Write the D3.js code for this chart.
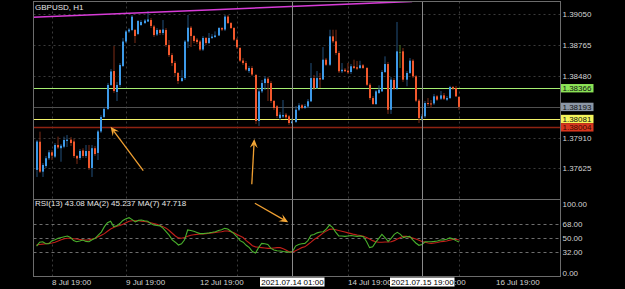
<!DOCTYPE html>
<html lang="en">
<head>
<meta charset="UTF-8">
<title>GBPUSD H1</title>
<script src="https://d3js.org/d3.v7.min.js"></script>
<style>
  body, html { margin: 0; padding: 0; background: #000; overflow: hidden; }
  svg { display: block; font-family: "Liberation Sans", Arial, sans-serif; }
</style>
</head>
<body>
<svg id="chart" width="625" height="289"></svg>
<script>
// bar index 0 = 8 Jul 19:00 (H1); data starts at bar -5
const firstBar = -5;

const opens = [
  1.37610,1.37871,1.37594,1.37646,1.37718,1.37773,1.37733,1.37841,1.37811,1.37825,
  1.37878,1.37890,1.37873,1.37739,1.37720,1.37790,1.37739,1.37785,1.37628,1.37811,
  1.37767,1.37966,1.38100,1.38174,1.38396,1.38525,1.38331,1.38396,1.38572,1.38798,
  1.38891,1.38905,1.38905,1.38868,1.38951,1.38969,1.38983,1.38997,1.38937,1.38863,
  1.38905,1.38877,1.38905,1.38766,1.38673,1.38599,1.38507,1.38433,1.38460,1.38798,
  1.38926,1.38849,1.38815,1.38798,1.38724,1.38831,1.38784,1.38831,1.38840,1.38854,
  1.38923,1.38909,1.39029,1.38969,1.38923,1.38815,1.38738,1.38622,1.38599,1.38525,
  1.38553,1.38488,1.38063,1.38337,1.38414,1.38454,1.38414,1.38248,1.38199,1.38090,
  1.38104,1.38121,1.38106,1.38044,1.38054,1.38167,1.38208,1.38183,1.38197,1.38245,
  1.38460,1.38368,1.38460,1.38447,1.38630,1.38583,1.38846,1.38800,1.38692,1.38523,
  1.38537,1.38528,1.38516,1.38569,1.38560,1.38553,1.38578,1.38553,1.38398,1.38275,
  1.38220,1.38322,1.38337,1.38516,1.38590,1.38167,1.38442,1.38359,1.38701,1.38707,
  1.38445,1.38507,1.38621,1.38476,1.38251,1.38084,1.38106,1.38229,1.38225,1.38225,
  1.38291,1.38269,1.38300,1.38260,1.38275,1.38377,1.38368,1.38285
];
const highs = [
  1.37887,1.37964,1.37674,1.37739,1.37794,1.37794,1.37859,1.37918,1.37850,1.37918,
  1.37933,1.37915,1.37896,1.37748,1.37804,1.37811,1.37841,1.37841,1.37841,1.37832,
  1.37980,1.38118,1.38192,1.38414,1.38544,1.38756,1.38424,1.38599,1.38831,1.38905,
  1.38923,1.39043,1.38914,1.38997,1.38997,1.39006,1.39080,1.39016,1.38951,1.38923,
  1.38914,1.38997,1.38923,1.38812,1.38692,1.38618,1.38516,1.38534,1.38812,1.39043,
  1.38942,1.38858,1.38831,1.38812,1.38849,1.38840,1.38877,1.38868,1.38892,1.38932,
  1.38932,1.39043,1.39043,1.38979,1.38932,1.38831,1.38747,1.38646,1.38618,1.38572,
  1.38572,1.38498,1.38368,1.38442,1.38479,1.38470,1.38433,1.38257,1.38211,1.38146,
  1.38257,1.38137,1.38118,1.38090,1.38201,1.38229,1.38220,1.38220,1.38266,1.38599,
  1.38488,1.38525,1.38507,1.38747,1.38646,1.38907,1.38907,1.38907,1.38710,1.38599,
  1.38553,1.38599,1.38590,1.38630,1.38618,1.38620,1.38590,1.38562,1.38414,1.38294,
  1.38349,1.38393,1.38534,1.38661,1.38609,1.38470,1.38460,1.38979,1.38766,1.38738,
  1.38525,1.38646,1.38636,1.38488,1.38266,1.38128,1.38248,1.38275,1.38257,1.38313,
  1.38303,1.38340,1.38322,1.38294,1.38389,1.38387,1.38387,1.38294
];
const lows = [
  1.37545,1.37582,1.37545,1.37628,1.37702,1.37702,1.37720,1.37804,1.37686,1.37811,
  1.37822,1.37832,1.37720,1.37665,1.37702,1.37720,1.37720,1.37610,1.37545,1.37739,
  1.37702,1.37952,1.38090,1.38164,1.38387,1.38322,1.38248,1.38377,1.38562,1.38784,
  1.38877,1.38895,1.38784,1.38858,1.38942,1.38960,1.38979,1.38923,1.38840,1.38849,
  1.38858,1.38858,1.38747,1.38655,1.38572,1.38479,1.38405,1.38424,1.38442,1.38738,
  1.38747,1.38784,1.38775,1.38710,1.38710,1.38766,1.38775,1.38821,1.38831,1.38849,
  1.38895,1.38895,1.38960,1.38914,1.38803,1.38729,1.38609,1.38581,1.38525,1.38507,
  1.38479,1.38035,1.38017,1.38322,1.38349,1.38248,1.38229,1.38164,1.38090,1.38072,
  1.38090,1.38081,1.38026,1.38035,1.38044,1.38155,1.38174,1.38174,1.38183,1.38238,
  1.38349,1.38359,1.38368,1.38442,1.38572,1.38572,1.38784,1.38673,1.38507,1.38507,
  1.38516,1.38498,1.38498,1.38544,1.38534,1.38544,1.38544,1.38387,1.38257,1.38211,
  1.38211,1.38313,1.38331,1.38507,1.38128,1.38128,1.38349,1.38349,1.38553,1.38424,
  1.38384,1.38498,1.38460,1.38238,1.38044,1.38063,1.38090,1.38201,1.38183,1.38211,
  1.38248,1.38257,1.38257,1.38248,1.38266,1.38349,1.38285,1.38164
];
const closes = [
  1.37873,1.37594,1.37656,1.37718,1.37773,1.37742,1.37841,1.37818,1.37834,1.37887,
  1.37890,1.37859,1.37739,1.37716,1.37785,1.37739,1.37785,1.37628,1.37811,1.37757,
  1.37966,1.38100,1.38174,1.38396,1.38521,1.38340,1.38396,1.38581,1.38798,1.38891,
  1.38909,1.39028,1.38849,1.38988,1.38979,1.38992,1.39002,1.38942,1.38858,1.38905,
  1.38877,1.38909,1.38766,1.38673,1.38599,1.38507,1.38433,1.38460,1.38798,1.38926,
  1.38849,1.38803,1.38794,1.38724,1.38831,1.38784,1.38831,1.38844,1.38854,1.38923,
  1.38909,1.39029,1.38969,1.38923,1.38815,1.38745,1.38621,1.38599,1.38539,1.38553,
  1.38493,1.38063,1.38337,1.38414,1.38454,1.38414,1.38248,1.38183,1.38109,1.38121,
  1.38118,1.38097,1.38044,1.38058,1.38167,1.38208,1.38183,1.38201,1.38245,1.38460,
  1.38368,1.38460,1.38447,1.38630,1.38583,1.38846,1.38800,1.38692,1.38523,1.38537,
  1.38523,1.38513,1.38569,1.38553,1.38547,1.38578,1.38553,1.38398,1.38275,1.38220,
  1.38337,1.38352,1.38516,1.38590,1.38167,1.38445,1.38359,1.38707,1.38701,1.38445,
  1.38507,1.38621,1.38476,1.38251,1.38090,1.38106,1.38229,1.38220,1.38217,1.38291,
  1.38260,1.38300,1.38269,1.38275,1.38377,1.38362,1.38291,1.38193
];

// RSI(13) smoothed lines
const rsiMa2 = [
  40,45,45.5,43,43,47,48,50,51,52,53,51,47,45.6,46.5,47.8,46,45.6,48,50,
  54,58,65,70,72,65,66,69,73,75,76.5,74,71,73,73.5,72.5,72,69,67,66.5,
  66,63,58.5,54,48,45,41.4,43,48,60.7,60,59,57.5,56,56,56.5,57,57.7,58.5,60,
  61,62.8,62,59,56,52,47,45,41,38,33,31,38,43.5,43,42,37,35,34,33.7,
  33,32.5,32,33,40,42,43,43.5,47,54,55,57,58,58.5,62,67,64,58,53,53,
  52.5,53,53.5,53,52.5,53,52,46,38,39,45,50,55,51,46,50,55,57.7,55,51,
  52,52.5,48,44,41,42,45.6,45.6,45.6,46,46.5,47.8,48,48.7,50.5,49.5,47,45.2
];
const rsiMa7 = [
  41.5,42,42.5,43,43.5,44,45,46.5,48,49.5,50,50,49.5,49,48.5,48,47.8,48,49,50,
  52,54,56,59,62,64,65.5,66.5,68,70,72,72.5,72.5,72.5,72,71.5,71,70,69,68,
  66.5,65,63,60,56.5,53,50.5,50,51,52.5,54,54.5,55,55.5,55.5,56,56.4,57,57.5,58,
  58.5,59.4,59.4,58.5,57,55,53,51,47,44,40.5,39,38.5,38,37.5,37,37,37.5,38,38,
  36.5,34.5,32.5,32,34,36,38,39,42,45,48.5,51,54,57,59.5,61.5,62,61,60,59,
  58,57,56,55,54.2,53.5,52.5,51,49,47,45.5,44.9,45,45.2,45.3,45.6,47,49,51,52.5,
  52.5,51.5,50.5,49,47.5,46,45,44,43.5,44,44.5,45.5,46,46.5,47.5,48.5,48.7,47.7
];

const priceTicks = [1.39050, 1.38765, 1.38480, 1.38195, 1.37910, 1.37625];
const rsiTicks = [100, 68, 50, 32, 0];
const rsiLevels = [68, 50, 32];
// 13 Jul 19:00 is fully covered by the crosshair tag, so it is not listed
const timeTicks = [
  { bar: 0, label: "8 Jul 19:00" },
  { bar: 24, label: "9 Jul 19:00" },
  { bar: 48, label: "12 Jul 19:00" },
  { bar: 96, label: "14 Jul 19:00" },
  { bar: 120, label: "15 Jul 19:00" },
  { bar: 144, label: "16 Jul 19:00" }
];
const gridBars = [0, 24, 60, 96, 132];
const crossBars = [
  { bar: 78, label: "2021.07.14 01:00" },
  { bar: 120, label: "2021.07.15 19:00" }
];
// horizontal levels with their tag colours
const priceLines = [
  { value: 1.38366, line: "#a6ee72", box: "#8be356", text: "#111" },
  { value: 1.38193, line: "#505050", box: "#8c97a6", text: "#111" },
  { value: 1.38081, line: "#f2f26a", box: "#f4f45c", text: "#111" },
  { value: 1.38004, line: "#8e2312", box: "#d8361e", text: "#3a0a00" }
];
const trendLine = [{ bar: -6.2, price: 1.39022 }, { bar: 116.8, price: 1.39169 }];
const priceArrows = [
  { from: { bar: 29.6, v: 1.37603 }, to: { bar: 19.0, v: 1.38010 } },
  { from: { bar: 64.8, v: 1.37477 }, to: { bar: 65.6, v: 1.37896 } }
];
const rsiArrows = [
  { from: { bar: 65.8, v: 95 }, to: { bar: 76.6, v: 70.6 } }
];
const legendText = "RSI(13) 43.08 MA(2) 45.237 MA(7) 47.718";

const svg = d3.select("#chart");
const W = 625, H = 289;
const left = 33.5, right = 560.5, mainTop = 1.5, mainBottom = 199.5, rsiBottom = 276.5;

const x = d3.scaleLinear().domain([0, 144]).range([52, 496]);
const y = d3.scaleLinear().domain([1.37625, 1.39050]).range([168.3, 14.3]);
const yr = d3.scaleLinear().domain([0, 100]).range([277.2, 199.4]);

svg.append("rect").attr("width", W).attr("height", H).attr("fill", "#000");

const defs = svg.append("defs");
defs.append("clipPath").attr("id", "clipMain").append("rect")
  .attr("x", left).attr("y", mainTop).attr("width", right - left).attr("height", mainBottom - mainTop);
defs.append("clipPath").attr("id", "clipRsi").append("rect")
  .attr("x", left).attr("y", mainBottom).attr("width", right - left).attr("height", rsiBottom - mainBottom);

const main = svg.append("g").attr("clip-path", "url(#clipMain)");
const rsi = svg.append("g").attr("clip-path", "url(#clipRsi)");

// grid
main.selectAll(".hgrid").data(priceTicks).join("line")
  .attr("x1", left).attr("x2", right)
  .attr("y1", d => Math.round(y(d)) + 0.5).attr("y2", d => Math.round(y(d)) + 0.5)
  .attr("stroke", "#3a3a3a").attr("stroke-dasharray", "2,3");
[main, rsi].forEach((g, k) => {
  g.selectAll(".vgrid").data(gridBars).join("line")
    .attr("x1", d => Math.round(x(d)) + 0.5).attr("x2", d => Math.round(x(d)) + 0.5)
    .attr("y1", k ? mainBottom : mainTop).attr("y2", k ? rsiBottom : mainBottom)
    .attr("stroke", "#3a3a3a").attr("stroke-dasharray", "2,3");
});
rsi.selectAll(".lvl").data(rsiLevels).join("line")
  .attr("x1", left).attr("x2", right)
  .attr("y1", d => Math.round(yr(d)) + 0.5).attr("y2", d => Math.round(yr(d)) + 0.5)
  .attr("stroke", "#6e6e6e").attr("stroke-dasharray", "3,3");

// price level lines
main.selectAll(".plevel").data(priceLines).join("line")
  .attr("x1", left).attr("x2", right)
  .attr("y1", d => Math.round(y(d.value)) + 0.5).attr("y2", d => Math.round(y(d.value)) + 0.5)
  .attr("stroke", d => d.line).attr("stroke-width", (d, i) => i === 3 ? 1.6 : 1);

// candles
const bars = d3.range(opens.length).map(i => ({
  bar: firstBar + i, o: opens[i], h: highs[i], l: lows[i], c: closes[i]
}));
const candleColor = d => d.c > d.o ? "#3d9ae8" : d.c < d.o ? "#f2582c" : "#4d7a22";
const wickColor = d => d.c > d.o ? "#22507c" : d.c < d.o ? "#7e2c16" : "#4d7a22";
const cx = d => Math.round(x(d.bar));

main.selectAll(".wick").data(bars).join("rect")
  .attr("x", d => cx(d) - 0.5).attr("width", 1)
  .attr("y", d => y(d.h)).attr("height", d => Math.max(1, y(d.l) - y(d.h)))
  .attr("fill", wickColor);
main.selectAll(".body").data(bars).join("rect")
  .attr("x", d => cx(d) - 1).attr("width", 2)
  .attr("y", d => y(Math.max(d.o, d.c)))
  .attr("height", d => Math.max(1, Math.abs(y(d.o) - y(d.c))))
  .attr("fill", candleColor);

// trend line
main.append("line")
  .attr("x1", x(trendLine[0].bar)).attr("y1", y(trendLine[0].price))
  .attr("x2", x(trendLine[1].bar)).attr("y2", y(trendLine[1].price))
  .attr("stroke", "#d83cd8").attr("stroke-width", 1.5);

// RSI lines
const rsiLine = arr => d3.line().x((d, i) => x(firstBar + i)).y(d => yr(d))(arr);
rsi.append("path").attr("d", rsiLine(rsiMa7)).attr("fill", "none")
  .attr("stroke", "#c3201a").attr("stroke-width", 1.1);
rsi.append("path").attr("d", rsiLine(rsiMa2)).attr("fill", "none")
  .attr("stroke", "#49b02c").attr("stroke-width", 1.1);

// crosshair verticals
svg.selectAll(".cross").data(crossBars).join("line")
  .attr("x1", d => Math.round(x(d.bar)) + 0.5).attr("x2", d => Math.round(x(d.bar)) + 0.5)
  .attr("y1", mainTop).attr("y2", rsiBottom)
  .attr("stroke", "#8a8a8a");

// arrows
function arrow(g, a, ys) {
  const x1 = x(a.from.bar), y1 = ys(a.from.v), x2 = x(a.to.bar), y2 = ys(a.to.v);
  const ang = Math.atan2(y2 - y1, x2 - x1);
  const len = 9, half = 4;
  const bx = x2 - len * Math.cos(ang), by = y2 - len * Math.sin(ang);
  const nx = x2 - 0.6 * len * Math.cos(ang), ny = y2 - 0.6 * len * Math.sin(ang);
  g.append("line").attr("x1", x1).attr("y1", y1).attr("x2", nx).attr("y2", ny)
    .attr("stroke", "#f0a032").attr("stroke-width", 1.3);
  const p = [
    [x2, y2],
    [bx - half * Math.sin(ang), by + half * Math.cos(ang)],
    [nx, ny],
    [bx + half * Math.sin(ang), by - half * Math.cos(ang)]
  ];
  g.append("polygon").attr("points", p.map(q => q.join(",")).join(" ")).attr("fill", "#f3a636");
}
priceArrows.forEach(a => arrow(main, a, y));
rsiArrows.forEach(a => arrow(rsi, a, yr));

// frames
svg.append("rect").attr("x", left).attr("y", mainTop).attr("width", right - left)
  .attr("height", rsiBottom - mainTop).attr("fill", "none").attr("stroke", "#6c6c6c");
svg.append("line").attr("x1", left).attr("x2", right).attr("y1", mainBottom).attr("y2", mainBottom)
  .attr("stroke", "#6c6c6c");

// texts
svg.append("text").attr("x", 35).attr("y", 10).attr("fill", "#e6e6e6")
  .attr("font-size", 8).text("GBPUSD, H1");
svg.append("text").attr("x", 35).attr("y", 206.3).attr("fill", "#e6e6e6")
  .attr("font-size", 8).text(legendText);

// right axis: prices
svg.selectAll(".ptick").data(priceTicks).join("text")
  .attr("x", 562.5).attr("y", d => y(d) + 3).attr("fill", "#d4d4d4")
  .attr("font-size", 8).text(d => d.toFixed(5));
const tags = svg.selectAll(".tag").data(priceLines).join("g");
tags.append("rect").attr("x", 561).attr("width", 32.5).attr("height", 8.4)
  .attr("y", d => y(d.value) - 4.2).attr("fill", d => d.box);
tags.append("text").attr("x", 562.5).attr("y", d => y(d.value) + 3)
  .attr("font-size", 8).attr("fill", d => d.text).text(d => d.value.toFixed(5));

// right axis: RSI
svg.selectAll(".rtick").data(rsiTicks).join("text")
  .attr("x", 562.5)
  .attr("y", d => Math.min(Math.max(yr(d), 203.5), 272.5) + 3)
  .attr("fill", "#d4d4d4").attr("font-size", 8).text(d => d.toFixed(2));

// time axis; labels under a crosshair tag only show the part right of the tag
const tagHalf = 32;
crossBars.forEach((c, k) => {
  defs.append("clipPath").attr("id", "tclip" + k).append("rect")
    .attr("x", Math.round(x(c.bar)) + tagHalf + 1).attr("y", 270).attr("width", 200).attr("height", 19);
});
svg.selectAll(".ttick").data(timeTicks).join("text")
  .attr("x", d => x(d.bar)).attr("y", 284.5)
  .attr("clip-path", d => {
    const k = crossBars.findIndex(c => c.bar === d.bar);
    return k >= 0 ? `url(#tclip${k})` : null;
  })
  .attr("fill", "#d4d4d4").attr("font-size", 8).text(d => d.label);
const crossTags = svg.selectAll(".ctag").data(crossBars).join("g");
crossTags.append("rect")
  .attr("x", d => Math.round(x(d.bar)) - tagHalf).attr("y", 277.5).attr("width", 2 * tagHalf + 0.5).attr("height", 9)
  .attr("fill", "#fff");
crossTags.append("text").attr("x", d => Math.round(x(d.bar)) + 0.5).attr("y", 284.5)
  .attr("text-anchor", "middle").attr("fill", "#000").attr("font-size", 8).text(d => d.label);
</script>
</body>
</html>
